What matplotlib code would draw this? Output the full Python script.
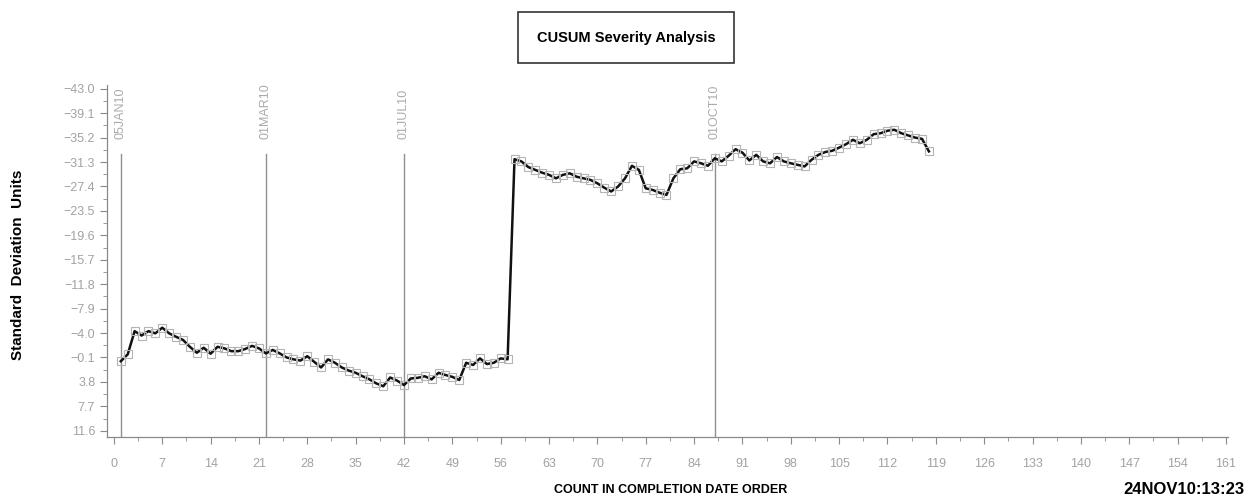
import numpy as np
import matplotlib
matplotlib.use("Agg")
import matplotlib.pyplot as plt
from matplotlib.patches import Rectangle
from matplotlib.ticker import MultipleLocator, FixedLocator

NARROW = ["Liberation Sans Narrow", "Liberation Sans", "DejaVu Sans"]
plt.rcParams["font.family"] = ["Liberation Sans", "DejaVu Sans"]

# CUSUM values, one per job in completion order
sd_units = [
    0.5, -0.6, -4.3, -3.6, -4.3, -3.95, -4.85, -3.95, -3.4, -2.9,
    -1.8, -0.85, -1.65, -0.7, -1.8, -1.55, -1.1, -1.1, -1.45, -1.95,
    -1.55, -0.75, -1.3, -0.75, -0.1, 0.2, 0.4, -0.3, 0.6, 1.5,
    0.2, 0.75, 1.5, 2.0, 2.35, 2.9, 3.4, 4.05, 4.5, 3.1,
    3.6, 4.3, 3.25, 3.15, 2.9, 3.4, 2.35, 2.7, 3.0, 3.5,
    0.75, 1.1, 0.05, 0.95, 0.75, 0.05, 0.2, -31.75, -31.4, -30.5,
    -30.05, -29.6, -29.25, -28.7, -29.25, -29.5, -28.95, -28.7, -28.45, -27.9,
    -27.2, -26.6, -27.4, -28.7, -30.7, -30.05, -27.1, -26.85, -26.4, -26.05,
    -28.7, -30.15, -30.3, -31.4, -31.1, -30.7, -31.9, -31.4, -32.3, -33.35,
    -32.8, -31.55, -32.45, -31.4, -31.1, -32.1, -31.4, -31.1, -30.85, -30.6,
    -31.65, -32.45, -32.9, -33.1, -33.6, -34.15, -34.85, -34.3, -34.85, -35.75,
    -35.9, -36.3, -36.45, -35.9, -35.55, -35.2, -35.0, -33.0,
]
count = np.arange(1, len(sd_units) + 1)

# date markers along the count axis
ref_counts = [1, 22, 42, 87]
ref_labels = ["05JAN10", "01MAR10", "01JUL10", "01OCT10"]

x_ticks = list(range(0, 162, 7))
y_ticks = [round(11.6 - 3.9 * k, 1) for k in range(15)]

AXIS_GRAY = "#8a8a8a"
TICK_GRAY = "#a2a2a2"

fig = plt.figure(figsize=(12.47, 5.01), dpi=100)
ax = fig.add_axes([107 / 1247, 64 / 501, (1228 - 107) / 1247, (437 - 85) / 501])

ax.plot(count, sd_units, color="#111111", lw=1.8, marker="s", markersize=5.5,
        markerfacecolor="none", markeredgecolor="#b4b4b4", markeredgewidth=0.8,
        zorder=3)

ax.set_xlim(-1.0, 161.3)
ax.set_ylim(12.6, -43.6)

# vertical date lines with rotated labels above
for xc, lab in zip(ref_counts, ref_labels):
    ax.plot([xc, xc], [12.6, -32.6], color="#8f8f8f", lw=1.0, zorder=1)
    ax.text(xc, -35.0, lab, rotation=90, ha="center", va="bottom",
            fontsize=9, color="#ababab", family=NARROW)

ax.xaxis.set_major_locator(FixedLocator(x_ticks))
ax.xaxis.set_minor_locator(MultipleLocator(3.5))
ax.yaxis.set_major_locator(FixedLocator(y_ticks))
ax.yaxis.set_minor_locator(FixedLocator([v - 1.95 for v in y_ticks]))
ax.set_xticklabels([str(v) for v in x_ticks], family=NARROW)
ax.set_yticklabels([f"{v:.1f}".replace("-", "\u2212") for v in y_ticks],
                   family=NARROW)
ax.tick_params(axis="both", which="major", length=5, width=0.8,
               color=AXIS_GRAY, labelcolor=TICK_GRAY, labelsize=9)
ax.tick_params(axis="both", which="minor", length=3, width=0.6, color=AXIS_GRAY)
ax.tick_params(axis="x", pad=10)

for k, sp in ax.spines.items():
    sp.set_visible(k in ("left", "bottom"))
    sp.set_color(AXIS_GRAY)
    sp.set_linewidth(0.9)

# boxed title
fig.add_artist(Rectangle((518 / 1247, 1 - 63 / 501), 216 / 1247, 51 / 501,
                         transform=fig.transFigure, fill=False,
                         edgecolor="#333333", lw=1.2))
fig.text(626 / 1247, 1 - 38 / 501, "CUSUM Severity Analysis", ha="center",
         va="center", fontsize=10.5, fontweight="bold", family=NARROW)

fig.text(18 / 1247, 1 - 265 / 501, "Standard  Deviation  Units", rotation=90,
         ha="center", va="center", fontsize=11, fontweight="bold")
fig.text(671 / 1247, 1 - 490 / 501, "COUNT IN COMPLETION DATE ORDER",
         ha="center", va="center", fontsize=9, fontweight="bold", family=NARROW)
fig.text(1245 / 1247, 1 - 490 / 501, "24NOV10:13:23", ha="right", va="center",
         fontsize=12, fontweight="bold", family=NARROW)

fig.savefig("out.png", dpi=100, facecolor="white")
